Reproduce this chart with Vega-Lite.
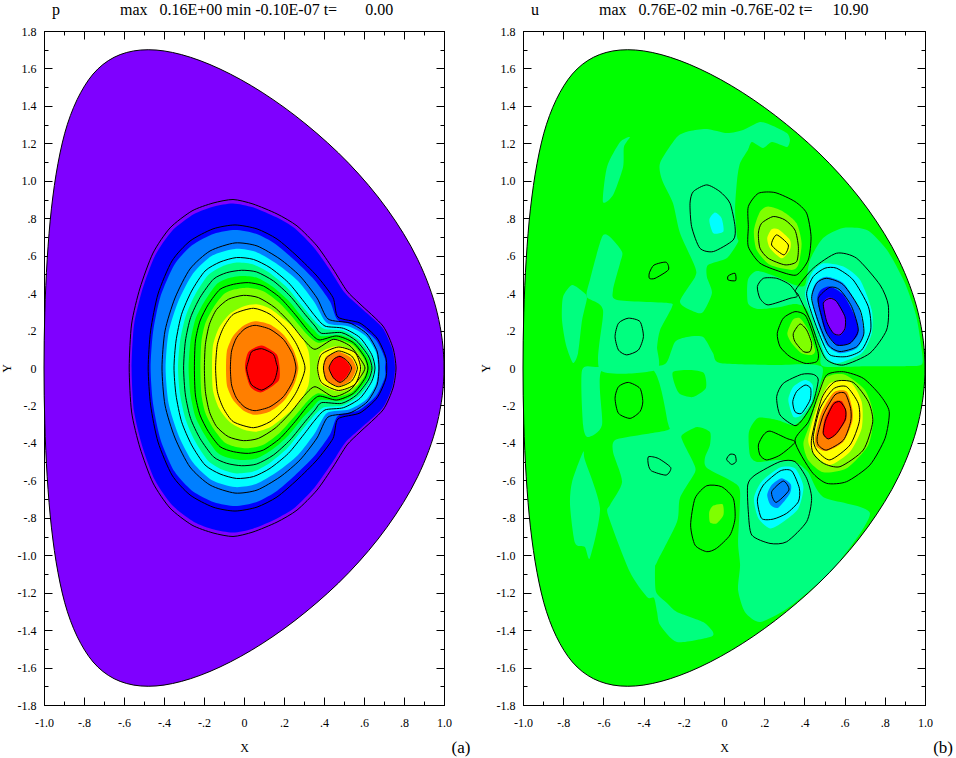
{"$schema":"https://vega.github.io/schema/vega-lite/v6.json","autosize":{"type":"none"},"padding":{"left":44,"top":31,"right":912,"bottom":727},"background":"white","config":{"view":{"stroke":"black"},"axis":{"labelFont":"Liberation Serif","titleFont":"Liberation Serif","domainColor":"black","tickColor":"black","labelColor":"black","titleColor":"black","labelFontSize":12,"titleFontSize":12,"titleFontWeight":"normal","grid":false,"labelOverlap":false,"labelFlush":false}},"spacing":79,"bounds":"flush","datasets":{"bd":[
{"x":1,"y":0},{"x":0.966,"y":0.295},{"x":0.868,"y":0.581},{"x":0.715,"y":0.85},{"x":0.524,"y":1.093},{"x":0.31,"y":1.302},{"x":0.091,"y":1.472},{"x":-0.12,"y":1.597},{"x":-0.313,"y":1.674},{"x":-0.479,"y":1.7},{"x":-0.619,"y":1.674},{"x":-0.731,"y":1.597},{"x":-0.816,"y":1.472},{"x":-0.883,"y":1.302},{"x":-0.93,"y":1.093},{"x":-0.963,"y":0.85},{"x":-0.984,"y":0.581},{"x":-0.996,"y":0.295},{"x":-1,"y":0},{"x":-0.996,"y":-0.295},{"x":-0.984,"y":-0.581},{"x":-0.963,"y":-0.85},{"x":-0.93,"y":-1.093},{"x":-0.883,"y":-1.302},{"x":-0.816,"y":-1.472},{"x":-0.731,"y":-1.597},{"x":-0.619,"y":-1.674},{"x":-0.479,"y":-1.7},{"x":-0.313,"y":-1.674},{"x":-0.12,"y":-1.597},{"x":0.091,"y":-1.472},{"x":0.31,"y":-1.302},{"x":0.524,"y":-1.093},{"x":0.715,"y":-0.85},{"x":0.868,"y":-0.581},{"x":0.966,"y":-0.295}
],"lf":[
{"s":"f1","c":1,"x":-0.562,"y":0},{"s":"f1","c":1,"x":-0.55,"y":0.23},{"s":"f1","c":1,"x":-0.508,"y":0.42},{"s":"f1","c":1,"x":-0.445,"y":0.6},{"s":"f1","c":1,"x":-0.36,"y":0.732},{"s":"f1","c":1,"x":-0.25,"y":0.822},{"s":"f1","c":1,"x":-0.15,"y":0.863},{"s":"f1","c":1,"x":-0.055,"y":0.879},{"s":"f1","c":1,"x":0.045,"y":0.858},{"s":"f1","c":1,"x":0.16,"y":0.806},{"s":"f1","c":1,"x":0.255,"y":0.745},{"s":"f1","c":1,"x":0.352,"y":0.64},{"s":"f1","c":1,"x":0.432,"y":0.52},{"s":"f1","c":1,"x":0.505,"y":0.4},{"s":"f1","c":1,"x":0.575,"y":0.33},{"s":"f1","c":1,"x":0.69,"y":0.218},{"s":"f1","c":1,"x":0.74,"y":0.105},{"s":"f1","c":1,"x":0.755,"y":0},{"s":"f1","c":1,"x":0.74,"y":-0.105},{"s":"f1","c":1,"x":0.69,"y":-0.218},{"s":"f1","c":1,"x":0.575,"y":-0.33},{"s":"f1","c":1,"x":0.505,"y":-0.4},{"s":"f1","c":1,"x":0.432,"y":-0.52},{"s":"f1","c":1,"x":0.352,"y":-0.64},{"s":"f1","c":1,"x":0.255,"y":-0.745},{"s":"f1","c":1,"x":0.16,"y":-0.806},{"s":"f1","c":1,"x":0.045,"y":-0.858},{"s":"f1","c":1,"x":-0.055,"y":-0.879},{"s":"f1","c":1,"x":-0.15,"y":-0.863},{"s":"f1","c":1,"x":-0.25,"y":-0.822},{"s":"f1","c":1,"x":-0.36,"y":-0.732},{"s":"f1","c":1,"x":-0.445,"y":-0.6},{"s":"f1","c":1,"x":-0.508,"y":-0.42},{"s":"f1","c":1,"x":-0.55,"y":-0.23},
{"s":"f2","c":2,"x":-0.467,"y":0},{"s":"f2","c":2,"x":-0.455,"y":0.19},{"s":"f2","c":2,"x":-0.418,"y":0.38},{"s":"f2","c":2,"x":-0.348,"y":0.552},{"s":"f2","c":2,"x":-0.26,"y":0.655},{"s":"f2","c":2,"x":-0.15,"y":0.717},{"s":"f2","c":2,"x":-0.045,"y":0.737},{"s":"f2","c":2,"x":0.06,"y":0.717},{"s":"f2","c":2,"x":0.155,"y":0.664},{"s":"f2","c":2,"x":0.253,"y":0.575},{"s":"f2","c":2,"x":0.352,"y":0.47},{"s":"f2","c":2,"x":0.43,"y":0.355},{"s":"f2","c":2,"x":0.47,"y":0.255},{"s":"f2","c":2,"x":0.575,"y":0.225},{"s":"f2","c":2,"x":0.66,"y":0.15},{"s":"f2","c":2,"x":0.705,"y":0.05},{"s":"f2","c":2,"x":0.705,"y":0},{"s":"f2","c":2,"x":0.705,"y":-0.05},{"s":"f2","c":2,"x":0.66,"y":-0.15},{"s":"f2","c":2,"x":0.575,"y":-0.225},{"s":"f2","c":2,"x":0.47,"y":-0.255},{"s":"f2","c":2,"x":0.43,"y":-0.355},{"s":"f2","c":2,"x":0.352,"y":-0.47},{"s":"f2","c":2,"x":0.253,"y":-0.575},{"s":"f2","c":2,"x":0.155,"y":-0.664},{"s":"f2","c":2,"x":0.06,"y":-0.717},{"s":"f2","c":2,"x":-0.045,"y":-0.737},{"s":"f2","c":2,"x":-0.15,"y":-0.717},{"s":"f2","c":2,"x":-0.26,"y":-0.655},{"s":"f2","c":2,"x":-0.348,"y":-0.552},{"s":"f2","c":2,"x":-0.418,"y":-0.38},{"s":"f2","c":2,"x":-0.455,"y":-0.19},
{"s":"f3","c":3,"x":-0.392,"y":0},{"s":"f3","c":3,"x":-0.377,"y":0.19},{"s":"f3","c":3,"x":-0.327,"y":0.36},{"s":"f3","c":3,"x":-0.255,"y":0.505},{"s":"f3","c":3,"x":-0.16,"y":0.6},{"s":"f3","c":3,"x":-0.045,"y":0.636},{"s":"f3","c":3,"x":0.06,"y":0.62},{"s":"f3","c":3,"x":0.17,"y":0.552},{"s":"f3","c":3,"x":0.27,"y":0.465},{"s":"f3","c":3,"x":0.353,"y":0.35},{"s":"f3","c":3,"x":0.415,"y":0.24},{"s":"f3","c":3,"x":0.525,"y":0.222},{"s":"f3","c":3,"x":0.61,"y":0.17},{"s":"f3","c":3,"x":0.66,"y":0.085},{"s":"f3","c":3,"x":0.67,"y":0},{"s":"f3","c":3,"x":0.66,"y":-0.085},{"s":"f3","c":3,"x":0.61,"y":-0.17},{"s":"f3","c":3,"x":0.525,"y":-0.222},{"s":"f3","c":3,"x":0.415,"y":-0.24},{"s":"f3","c":3,"x":0.353,"y":-0.35},{"s":"f3","c":3,"x":0.27,"y":-0.465},{"s":"f3","c":3,"x":0.17,"y":-0.552},{"s":"f3","c":3,"x":0.06,"y":-0.62},{"s":"f3","c":3,"x":-0.045,"y":-0.636},{"s":"f3","c":3,"x":-0.16,"y":-0.6},{"s":"f3","c":3,"x":-0.255,"y":-0.505},{"s":"f3","c":3,"x":-0.327,"y":-0.36},{"s":"f3","c":3,"x":-0.377,"y":-0.19},
{"s":"f4","c":4,"x":-0.33,"y":0},{"s":"f4","c":4,"x":-0.32,"y":0.14},{"s":"f4","c":4,"x":-0.292,"y":0.275},{"s":"f4","c":4,"x":-0.245,"y":0.39},{"s":"f4","c":4,"x":-0.18,"y":0.495},{"s":"f4","c":4,"x":-0.11,"y":0.542},{"s":"f4","c":4,"x":-0.037,"y":0.563},{"s":"f4","c":4,"x":0.047,"y":0.553},{"s":"f4","c":4,"x":0.125,"y":0.51},{"s":"f4","c":4,"x":0.215,"y":0.43},{"s":"f4","c":4,"x":0.288,"y":0.335},{"s":"f4","c":4,"x":0.348,"y":0.258},{"s":"f4","c":4,"x":0.4,"y":0.21},{"s":"f4","c":4,"x":0.495,"y":0.2},{"s":"f4","c":4,"x":0.575,"y":0.15},{"s":"f4","c":4,"x":0.633,"y":0.07},{"s":"f4","c":4,"x":0.65,"y":0},{"s":"f4","c":4,"x":0.633,"y":-0.07},{"s":"f4","c":4,"x":0.575,"y":-0.15},{"s":"f4","c":4,"x":0.495,"y":-0.2},{"s":"f4","c":4,"x":0.4,"y":-0.21},{"s":"f4","c":4,"x":0.348,"y":-0.258},{"s":"f4","c":4,"x":0.288,"y":-0.335},{"s":"f4","c":4,"x":0.215,"y":-0.43},{"s":"f4","c":4,"x":0.125,"y":-0.51},{"s":"f4","c":4,"x":0.047,"y":-0.553},{"s":"f4","c":4,"x":-0.037,"y":-0.563},{"s":"f4","c":4,"x":-0.11,"y":-0.542},{"s":"f4","c":4,"x":-0.18,"y":-0.495},{"s":"f4","c":4,"x":-0.245,"y":-0.39},{"s":"f4","c":4,"x":-0.292,"y":-0.275},{"s":"f4","c":4,"x":-0.32,"y":-0.14},
{"s":"f5","c":5,"x":-0.277,"y":0},{"s":"f5","c":5,"x":-0.268,"y":0.14},{"s":"f5","c":5,"x":-0.243,"y":0.26},{"s":"f5","c":5,"x":-0.198,"y":0.355},{"s":"f5","c":5,"x":-0.135,"y":0.45},{"s":"f5","c":5,"x":-0.08,"y":0.48},{"s":"f5","c":5,"x":-0.012,"y":0.492},{"s":"f5","c":5,"x":0.063,"y":0.483},{"s":"f5","c":5,"x":0.142,"y":0.435},{"s":"f5","c":5,"x":0.222,"y":0.36},{"s":"f5","c":5,"x":0.295,"y":0.265},{"s":"f5","c":5,"x":0.348,"y":0.205},{"s":"f5","c":5,"x":0.385,"y":0.17},{"s":"f5","c":5,"x":0.487,"y":0.175},{"s":"f5","c":5,"x":0.56,"y":0.135},{"s":"f5","c":5,"x":0.617,"y":0.06},{"s":"f5","c":5,"x":0.635,"y":0},{"s":"f5","c":5,"x":0.617,"y":-0.06},{"s":"f5","c":5,"x":0.56,"y":-0.135},{"s":"f5","c":5,"x":0.487,"y":-0.175},{"s":"f5","c":5,"x":0.385,"y":-0.17},{"s":"f5","c":5,"x":0.348,"y":-0.205},{"s":"f5","c":5,"x":0.295,"y":-0.265},{"s":"f5","c":5,"x":0.222,"y":-0.36},{"s":"f5","c":5,"x":0.142,"y":-0.435},{"s":"f5","c":5,"x":0.063,"y":-0.483},{"s":"f5","c":5,"x":-0.012,"y":-0.492},{"s":"f5","c":5,"x":-0.08,"y":-0.48},{"s":"f5","c":5,"x":-0.135,"y":-0.45},{"s":"f5","c":5,"x":-0.198,"y":-0.355},{"s":"f5","c":5,"x":-0.243,"y":-0.26},{"s":"f5","c":5,"x":-0.268,"y":-0.14},
{"s":"f6","c":6,"x":-0.218,"y":0},{"s":"f6","c":6,"x":-0.213,"y":0.14},{"s":"f6","c":6,"x":-0.193,"y":0.24},{"s":"f6","c":6,"x":-0.152,"y":0.325},{"s":"f6","c":6,"x":-0.1,"y":0.395},{"s":"f6","c":6,"x":-0.045,"y":0.42},{"s":"f6","c":6,"x":0.022,"y":0.429},{"s":"f6","c":6,"x":0.097,"y":0.41},{"s":"f6","c":6,"x":0.175,"y":0.35},{"s":"f6","c":6,"x":0.248,"y":0.265},{"s":"f6","c":6,"x":0.315,"y":0.18},{"s":"f6","c":6,"x":0.37,"y":0.135},{"s":"f6","c":6,"x":0.46,"y":0.155},{"s":"f6","c":6,"x":0.543,"y":0.125},{"s":"f6","c":6,"x":0.6,"y":0.05},{"s":"f6","c":6,"x":0.615,"y":0},{"s":"f6","c":6,"x":0.6,"y":-0.05},{"s":"f6","c":6,"x":0.543,"y":-0.125},{"s":"f6","c":6,"x":0.46,"y":-0.155},{"s":"f6","c":6,"x":0.37,"y":-0.135},{"s":"f6","c":6,"x":0.315,"y":-0.18},{"s":"f6","c":6,"x":0.248,"y":-0.265},{"s":"f6","c":6,"x":0.175,"y":-0.35},{"s":"f6","c":6,"x":0.097,"y":-0.41},{"s":"f6","c":6,"x":0.022,"y":-0.429},{"s":"f6","c":6,"x":-0.045,"y":-0.42},{"s":"f6","c":6,"x":-0.1,"y":-0.395},{"s":"f6","c":6,"x":-0.152,"y":-0.325},{"s":"f6","c":6,"x":-0.193,"y":-0.24},{"s":"f6","c":6,"x":-0.213,"y":-0.14},
{"s":"f7","c":7,"x":-0.16,"y":0},{"s":"f7","c":7,"x":-0.155,"y":0.12},{"s":"f7","c":7,"x":-0.125,"y":0.215},{"s":"f7","c":7,"x":-0.07,"y":0.29},{"s":"f7","c":7,"x":0,"y":0.33},{"s":"f7","c":7,"x":0.063,"y":0.34},{"s":"f7","c":7,"x":0.13,"y":0.317},{"s":"f7","c":7,"x":0.2,"y":0.26},{"s":"f7","c":7,"x":0.28,"y":0.18},{"s":"f7","c":7,"x":0.322,"y":0.091},{"s":"f7","c":7,"x":0.33,"y":0},{"s":"f7","c":7,"x":0.322,"y":-0.091},{"s":"f7","c":7,"x":0.28,"y":-0.18},{"s":"f7","c":7,"x":0.2,"y":-0.26},{"s":"f7","c":7,"x":0.13,"y":-0.317},{"s":"f7","c":7,"x":0.063,"y":-0.34},{"s":"f7","c":7,"x":0,"y":-0.33},{"s":"f7","c":7,"x":-0.07,"y":-0.29},{"s":"f7","c":7,"x":-0.125,"y":-0.215},{"s":"f7","c":7,"x":-0.155,"y":-0.12},
{"s":"f7b","c":7,"x":0.367,"y":0},{"s":"f7b","c":7,"x":0.385,"y":0.085},{"s":"f7b","c":7,"x":0.472,"y":0.118},{"s":"f7b","c":7,"x":0.565,"y":0.08},{"s":"f7b","c":7,"x":0.588,"y":0},{"s":"f7b","c":7,"x":0.565,"y":-0.09},{"s":"f7b","c":7,"x":0.472,"y":-0.125},{"s":"f7b","c":7,"x":0.385,"y":-0.085},
{"s":"f8","c":8,"x":-0.09,"y":0},{"s":"f8","c":8,"x":-0.085,"y":0.095},{"s":"f8","c":8,"x":-0.055,"y":0.17},{"s":"f8","c":8,"x":-0.005,"y":0.225},{"s":"f8","c":8,"x":0.055,"y":0.25},{"s":"f8","c":8,"x":0.13,"y":0.232},{"s":"f8","c":8,"x":0.2,"y":0.175},{"s":"f8","c":8,"x":0.25,"y":0.09},{"s":"f8","c":8,"x":0.272,"y":0},{"s":"f8","c":8,"x":0.25,"y":-0.09},{"s":"f8","c":8,"x":0.2,"y":-0.175},{"s":"f8","c":8,"x":0.13,"y":-0.232},{"s":"f8","c":8,"x":0.055,"y":-0.25},{"s":"f8","c":8,"x":-0.005,"y":-0.225},{"s":"f8","c":8,"x":-0.055,"y":-0.17},{"s":"f8","c":8,"x":-0.085,"y":-0.095},
{"s":"f8b","c":8,"x":0.397,"y":0},{"s":"f8b","c":8,"x":0.41,"y":0.06},{"s":"f8b","c":8,"x":0.472,"y":0.087},{"s":"f8b","c":8,"x":0.535,"y":0.055},{"s":"f8b","c":8,"x":0.56,"y":0},{"s":"f8b","c":8,"x":0.535,"y":-0.065},{"s":"f8b","c":8,"x":0.472,"y":-0.097},{"s":"f8b","c":8,"x":0.41,"y":-0.065},
{"s":"f9","c":9,"x":0.005,"y":0},{"s":"f9","c":9,"x":0.022,"y":0.085},{"s":"f9","c":9,"x":0.088,"y":0.12},{"s":"f9","c":9,"x":0.163,"y":0.073},{"s":"f9","c":9,"x":0.178,"y":0},{"s":"f9","c":9,"x":0.172,"y":-0.07},{"s":"f9","c":9,"x":0.088,"y":-0.13},{"s":"f9","c":9,"x":0.032,"y":-0.1},
{"s":"f9b","c":9,"x":0.427,"y":0},{"s":"f9b","c":9,"x":0.447,"y":0.045},{"s":"f9b","c":9,"x":0.478,"y":0.067},{"s":"f9b","c":9,"x":0.51,"y":0.04},{"s":"f9b","c":9,"x":0.533,"y":0},{"s":"f9b","c":9,"x":0.51,"y":-0.05},{"s":"f9b","c":9,"x":0.478,"y":-0.075},{"s":"f9b","c":9,"x":0.447,"y":-0.055}
],"ll":[
{"s":"l1","x":-0.574,"y":0},{"s":"l1","x":-0.562,"y":0.235},{"s":"l1","x":-0.52,"y":0.427},{"s":"l1","x":-0.455,"y":0.614},{"s":"l1","x":-0.37,"y":0.748},{"s":"l1","x":-0.26,"y":0.839},{"s":"l1","x":-0.155,"y":0.881},{"s":"l1","x":-0.055,"y":0.9},{"s":"l1","x":0.045,"y":0.876},{"s":"l1","x":0.165,"y":0.823},{"s":"l1","x":0.265,"y":0.759},{"s":"l1","x":0.365,"y":0.652},{"s":"l1","x":0.445,"y":0.529},{"s":"l1","x":0.515,"y":0.411},{"s":"l1","x":0.58,"y":0.342},{"s":"l1","x":0.695,"y":0.224},{"s":"l1","x":0.745,"y":0.107},{"s":"l1","x":0.76,"y":0},{"s":"l1","x":0.745,"y":-0.107},{"s":"l1","x":0.695,"y":-0.224},{"s":"l1","x":0.58,"y":-0.342},{"s":"l1","x":0.515,"y":-0.411},{"s":"l1","x":0.445,"y":-0.529},{"s":"l1","x":0.365,"y":-0.652},{"s":"l1","x":0.265,"y":-0.759},{"s":"l1","x":0.165,"y":-0.823},{"s":"l1","x":0.045,"y":-0.876},{"s":"l1","x":-0.055,"y":-0.9},{"s":"l1","x":-0.155,"y":-0.881},{"s":"l1","x":-0.26,"y":-0.839},{"s":"l1","x":-0.37,"y":-0.748},{"s":"l1","x":-0.455,"y":-0.614},{"s":"l1","x":-0.52,"y":-0.427},{"s":"l1","x":-0.562,"y":-0.235},
{"s":"l2","x":-0.479,"y":0},{"s":"l2","x":-0.467,"y":0.198},{"s":"l2","x":-0.43,"y":0.395},{"s":"l2","x":-0.36,"y":0.572},{"s":"l2","x":-0.27,"y":0.678},{"s":"l2","x":-0.155,"y":0.743},{"s":"l2","x":-0.045,"y":0.764},{"s":"l2","x":0.065,"y":0.743},{"s":"l2","x":0.165,"y":0.689},{"s":"l2","x":0.265,"y":0.598},{"s":"l2","x":0.365,"y":0.491},{"s":"l2","x":0.445,"y":0.376},{"s":"l2","x":0.47,"y":0.272},{"s":"l2","x":0.58,"y":0.24},{"s":"l2","x":0.665,"y":0.16},{"s":"l2","x":0.71,"y":0.053},{"s":"l2","x":0.71,"y":-0.053},{"s":"l2","x":0.665,"y":-0.16},{"s":"l2","x":0.58,"y":-0.24},{"s":"l2","x":0.47,"y":-0.272},{"s":"l2","x":0.445,"y":-0.376},{"s":"l2","x":0.365,"y":-0.491},{"s":"l2","x":0.265,"y":-0.598},{"s":"l2","x":0.165,"y":-0.689},{"s":"l2","x":0.065,"y":-0.743},{"s":"l2","x":-0.045,"y":-0.764},{"s":"l2","x":-0.155,"y":-0.743},{"s":"l2","x":-0.27,"y":-0.678},{"s":"l2","x":-0.36,"y":-0.572},{"s":"l2","x":-0.43,"y":-0.395},{"s":"l2","x":-0.467,"y":-0.198},
{"s":"l3","x":-0.41,"y":0},{"s":"l3","x":-0.395,"y":0.198},{"s":"l3","x":-0.345,"y":0.374},{"s":"l3","x":-0.27,"y":0.529},{"s":"l3","x":-0.17,"y":0.625},{"s":"l3","x":-0.045,"y":0.668},{"s":"l3","x":0.065,"y":0.652},{"s":"l3","x":0.18,"y":0.582},{"s":"l3","x":0.28,"y":0.491},{"s":"l3","x":0.365,"y":0.374},{"s":"l3","x":0.42,"y":0.262},{"s":"l3","x":0.53,"y":0.24},{"s":"l3","x":0.615,"y":0.182},{"s":"l3","x":0.665,"y":0.091},{"s":"l3","x":0.675,"y":0},{"s":"l3","x":0.665,"y":-0.091},{"s":"l3","x":0.615,"y":-0.182},{"s":"l3","x":0.53,"y":-0.24},{"s":"l3","x":0.42,"y":-0.262},{"s":"l3","x":0.365,"y":-0.374},{"s":"l3","x":0.28,"y":-0.491},{"s":"l3","x":0.18,"y":-0.582},{"s":"l3","x":0.065,"y":-0.652},{"s":"l3","x":-0.045,"y":-0.668},{"s":"l3","x":-0.17,"y":-0.625},{"s":"l3","x":-0.27,"y":-0.529},{"s":"l3","x":-0.345,"y":-0.374},{"s":"l3","x":-0.395,"y":-0.198},
{"s":"l4","x":-0.35,"y":0},{"s":"l4","x":-0.34,"y":0.144},{"s":"l4","x":-0.312,"y":0.287},{"s":"l4","x":-0.262,"y":0.411},{"s":"l4","x":-0.195,"y":0.518},{"s":"l4","x":-0.12,"y":0.566},{"s":"l4","x":-0.037,"y":0.59},{"s":"l4","x":0.047,"y":0.58},{"s":"l4","x":0.13,"y":0.536},{"s":"l4","x":0.222,"y":0.456},{"s":"l4","x":0.297,"y":0.358},{"s":"l4","x":0.355,"y":0.278},{"s":"l4","x":0.405,"y":0.224},{"s":"l4","x":0.497,"y":0.212},{"s":"l4","x":0.58,"y":0.162},{"s":"l4","x":0.638,"y":0.073},{"s":"l4","x":0.655,"y":0},{"s":"l4","x":0.638,"y":-0.073},{"s":"l4","x":0.58,"y":-0.162},{"s":"l4","x":0.497,"y":-0.212},{"s":"l4","x":0.405,"y":-0.224},{"s":"l4","x":0.355,"y":-0.278},{"s":"l4","x":0.297,"y":-0.358},{"s":"l4","x":0.222,"y":-0.456},{"s":"l4","x":0.13,"y":-0.536},{"s":"l4","x":0.047,"y":-0.58},{"s":"l4","x":-0.037,"y":-0.59},{"s":"l4","x":-0.12,"y":-0.566},{"s":"l4","x":-0.195,"y":-0.518},{"s":"l4","x":-0.262,"y":-0.411},{"s":"l4","x":-0.312,"y":-0.287},{"s":"l4","x":-0.34,"y":-0.144},
{"s":"l5","x":-0.302,"y":0},{"s":"l5","x":-0.293,"y":0.144},{"s":"l5","x":-0.267,"y":0.269},{"s":"l5","x":-0.22,"y":0.376},{"s":"l5","x":-0.153,"y":0.474},{"s":"l5","x":-0.087,"y":0.509},{"s":"l5","x":-0.012,"y":0.522},{"s":"l5","x":0.063,"y":0.513},{"s":"l5","x":0.147,"y":0.465},{"s":"l5","x":0.23,"y":0.385},{"s":"l5","x":0.305,"y":0.287},{"s":"l5","x":0.355,"y":0.224},{"s":"l5","x":0.388,"y":0.185},{"s":"l5","x":0.488,"y":0.189},{"s":"l5","x":0.563,"y":0.144},{"s":"l5","x":0.622,"y":0.064},{"s":"l5","x":0.64,"y":0},{"s":"l5","x":0.622,"y":-0.064},{"s":"l5","x":0.563,"y":-0.144},{"s":"l5","x":0.488,"y":-0.189},{"s":"l5","x":0.388,"y":-0.185},{"s":"l5","x":0.355,"y":-0.224},{"s":"l5","x":0.305,"y":-0.287},{"s":"l5","x":0.23,"y":-0.385},{"s":"l5","x":0.147,"y":-0.465},{"s":"l5","x":0.063,"y":-0.513},{"s":"l5","x":-0.012,"y":-0.522},{"s":"l5","x":-0.087,"y":-0.509},{"s":"l5","x":-0.153,"y":-0.474},{"s":"l5","x":-0.22,"y":-0.376},{"s":"l5","x":-0.267,"y":-0.269},{"s":"l5","x":-0.293,"y":-0.144},
{"s":"l6","x":-0.248,"y":0},{"s":"l6","x":-0.243,"y":0.144},{"s":"l6","x":-0.22,"y":0.251},{"s":"l6","x":-0.178,"y":0.34},{"s":"l6","x":-0.12,"y":0.42},{"s":"l6","x":-0.053,"y":0.447},{"s":"l6","x":0.022,"y":0.456},{"s":"l6","x":0.097,"y":0.438},{"s":"l6","x":0.18,"y":0.376},{"s":"l6","x":0.255,"y":0.287},{"s":"l6","x":0.322,"y":0.198},{"s":"l6","x":0.375,"y":0.15},{"s":"l6","x":0.463,"y":0.171},{"s":"l6","x":0.547,"y":0.135},{"s":"l6","x":0.605,"y":0.055},{"s":"l6","x":0.62,"y":0},{"s":"l6","x":0.605,"y":-0.055},{"s":"l6","x":0.547,"y":-0.135},{"s":"l6","x":0.463,"y":-0.171},{"s":"l6","x":0.375,"y":-0.15},{"s":"l6","x":0.322,"y":-0.198},{"s":"l6","x":0.255,"y":-0.287},{"s":"l6","x":0.18,"y":-0.376},{"s":"l6","x":0.097,"y":-0.438},{"s":"l6","x":0.022,"y":-0.456},{"s":"l6","x":-0.053,"y":-0.447},{"s":"l6","x":-0.12,"y":-0.42},{"s":"l6","x":-0.178,"y":-0.34},{"s":"l6","x":-0.22,"y":-0.251},{"s":"l6","x":-0.243,"y":-0.144},
{"s":"l7","x":-0.198,"y":0},{"s":"l7","x":-0.193,"y":0.126},{"s":"l7","x":-0.173,"y":0.233},{"s":"l7","x":-0.137,"y":0.313},{"s":"l7","x":-0.078,"y":0.367},{"s":"l7","x":-0.003,"y":0.388},{"s":"l7","x":0.072,"y":0.376},{"s":"l7","x":0.155,"y":0.322},{"s":"l7","x":0.23,"y":0.242},{"s":"l7","x":0.297,"y":0.153},{"s":"l7","x":0.355,"y":0.1},{"s":"l7","x":0.447,"y":0.153},{"s":"l7","x":0.53,"y":0.118},{"s":"l7","x":0.588,"y":0.038},{"s":"l7","x":0.605,"y":0},{"s":"l7","x":0.588,"y":-0.038},{"s":"l7","x":0.53,"y":-0.118},{"s":"l7","x":0.447,"y":-0.153},{"s":"l7","x":0.355,"y":-0.1},{"s":"l7","x":0.297,"y":-0.153},{"s":"l7","x":0.23,"y":-0.242},{"s":"l7","x":0.155,"y":-0.322},{"s":"l7","x":0.072,"y":-0.376},{"s":"l7","x":-0.003,"y":-0.388},{"s":"l7","x":-0.078,"y":-0.367},{"s":"l7","x":-0.137,"y":-0.313},{"s":"l7","x":-0.173,"y":-0.233},{"s":"l7","x":-0.193,"y":-0.126},
{"s":"l8","x":-0.142,"y":0},{"s":"l8","x":-0.133,"y":0.126},{"s":"l8","x":-0.103,"y":0.215},{"s":"l8","x":-0.053,"y":0.287},{"s":"l8","x":0.047,"y":0.319},{"s":"l8","x":0.13,"y":0.287},{"s":"l8","x":0.205,"y":0.215},{"s":"l8","x":0.263,"y":0.126},{"s":"l8","x":0.305,"y":0},{"s":"l8","x":0.263,"y":-0.126},{"s":"l8","x":0.205,"y":-0.215},{"s":"l8","x":0.13,"y":-0.287},{"s":"l8","x":0.047,"y":-0.319},{"s":"l8","x":-0.053,"y":-0.287},{"s":"l8","x":-0.103,"y":-0.215},{"s":"l8","x":-0.133,"y":-0.126},
{"s":"l9","x":-0.068,"y":0},{"s":"l9","x":-0.062,"y":0.091},{"s":"l9","x":-0.037,"y":0.162},{"s":"l9","x":0.005,"y":0.21},{"s":"l9","x":0.055,"y":0.228},{"s":"l9","x":0.13,"y":0.207},{"s":"l9","x":0.197,"y":0.153},{"s":"l9","x":0.243,"y":0.073},{"s":"l9","x":0.26,"y":0},{"s":"l9","x":0.243,"y":-0.073},{"s":"l9","x":0.197,"y":-0.153},{"s":"l9","x":0.13,"y":-0.207},{"s":"l9","x":0.055,"y":-0.228},{"s":"l9","x":0.005,"y":-0.21},{"s":"l9","x":-0.037,"y":-0.162},{"s":"l9","x":-0.062,"y":-0.091},
{"s":"l10","x":0.013,"y":0},{"s":"l10","x":0.022,"y":0.037},{"s":"l10","x":0.038,"y":0.087},{"s":"l10","x":0.088,"y":0.103},{"s":"l10","x":0.147,"y":0.073},{"s":"l10","x":0.163,"y":0.02},{"s":"l10","x":0.168,"y":0},{"s":"l10","x":0.158,"y":-0.05},{"s":"l10","x":0.14,"y":-0.085},{"s":"l10","x":0.088,"y":-0.118},{"s":"l10","x":0.038,"y":-0.09},{"s":"l10","x":0.02,"y":-0.04},
{"s":"r1","x":0.425,"y":0},{"s":"r1","x":0.447,"y":0.046},{"s":"r1","x":0.48,"y":0.062},{"s":"r1","x":0.513,"y":0.041},{"s":"r1","x":0.538,"y":0},{"s":"r1","x":0.513,"y":-0.052},{"s":"r1","x":0.48,"y":-0.077},{"s":"r1","x":0.447,"y":-0.052},
{"s":"r2","x":0.397,"y":0},{"s":"r2","x":0.413,"y":0.055},{"s":"r2","x":0.472,"y":0.091},{"s":"r2","x":0.538,"y":0.064},{"s":"r2","x":0.567,"y":0},{"s":"r2","x":0.538,"y":-0.07},{"s":"r2","x":0.472,"y":-0.1},{"s":"r2","x":0.413,"y":-0.066},
{"s":"r3","x":0.368,"y":0},{"s":"r3","x":0.388,"y":0.073},{"s":"r3","x":0.472,"y":0.112},{"s":"r3","x":0.555,"y":0.082},{"s":"r3","x":0.583,"y":0},{"s":"r3","x":0.555,"y":-0.087},{"s":"r3","x":0.472,"y":-0.12},{"s":"r3","x":0.388,"y":-0.078}
],"rf":[
{"s":"s1","c":4,"x":-0.169,"y":1.266},{"s":"s1","c":4,"x":-0.085,"y":1.277},{"s":"s1","c":4,"x":0.015,"y":1.255},{"s":"s1","c":4,"x":0.095,"y":1.271},{"s":"s1","c":4,"x":0.179,"y":1.314},{"s":"s1","c":4,"x":0.244,"y":1.293},{"s":"s1","c":4,"x":0.313,"y":1.255},{"s":"s1","c":4,"x":0.328,"y":1.218},{"s":"s1","c":4,"x":0.313,"y":1.181},{"s":"s1","c":4,"x":0.239,"y":1.207},{"s":"s1","c":4,"x":0.194,"y":1.175},{"s":"s1","c":4,"x":0.139,"y":1.207},{"s":"s1","c":4,"x":0.119,"y":1.165},{"s":"s1","c":4,"x":0.08,"y":1.095},{"s":"s1","c":4,"x":0.065,"y":1.004},{"s":"s1","c":4,"x":0.055,"y":0.844},{"s":"s1","c":4,"x":0.065,"y":0.7},{"s":"s1","c":4,"x":0.07,"y":0.673},{"s":"s1","c":4,"x":0.015,"y":0.588},{"s":"s1","c":4,"x":-0.08,"y":0.55},{"s":"s1","c":4,"x":-0.085,"y":0.486},{"s":"s1","c":4,"x":-0.06,"y":0.401},{"s":"s1","c":4,"x":-0.104,"y":0.299},{"s":"s1","c":4,"x":-0.144,"y":0.299},{"s":"s1","c":4,"x":-0.219,"y":0.353},{"s":"s1","c":4,"x":-0.144,"y":0.486},{"s":"s1","c":4,"x":-0.144,"y":0.54},{"s":"s1","c":4,"x":-0.219,"y":0.721},{"s":"s1","c":4,"x":-0.254,"y":0.881},{"s":"s1","c":4,"x":-0.308,"y":1.004},{"s":"s1","c":4,"x":-0.318,"y":1.095},{"s":"s1","c":4,"x":-0.234,"y":1.234},
{"s":"s2","c":4,"x":-0.468,"y":1.234},{"s":"s2","c":4,"x":-0.517,"y":1.207},{"s":"s2","c":4,"x":-0.582,"y":1.074},{"s":"s2","c":4,"x":-0.602,"y":0.887},{"s":"s2","c":4,"x":-0.552,"y":0.924},{"s":"s2","c":4,"x":-0.502,"y":1.074},{"s":"s2","c":4,"x":-0.498,"y":1.181},
{"s":"s3","c":4,"x":-0.607,"y":0.7},{"s":"s3","c":4,"x":-0.567,"y":0.7},{"s":"s3","c":4,"x":-0.507,"y":0.62},{"s":"s3","c":4,"x":-0.517,"y":0.561},{"s":"s3","c":4,"x":-0.552,"y":0.417},{"s":"s3","c":4,"x":-0.532,"y":0.363},{"s":"s3","c":4,"x":-0.279,"y":0.347},{"s":"s3","c":4,"x":-0.259,"y":0.326},{"s":"s3","c":4,"x":-0.318,"y":0.203},{"s":"s3","c":4,"x":-0.333,"y":0.112},{"s":"s3","c":4,"x":-0.338,"y":-0.011},{"s":"s3","c":4,"x":-0.617,"y":-0.011},{"s":"s3","c":4,"x":-0.602,"y":0.31},{"s":"s3","c":4,"x":-0.682,"y":0.379},{"s":"s3","c":4,"x":-0.667,"y":0.47},
{"s":"s4","c":4,"x":-0.756,"y":0.443},{"s":"s4","c":4,"x":-0.701,"y":0.406},{"s":"s4","c":4,"x":-0.682,"y":0.374},{"s":"s4","c":4,"x":-0.706,"y":0.256},{"s":"s4","c":4,"x":-0.726,"y":0.08},{"s":"s4","c":4,"x":-0.751,"y":0.027},{"s":"s4","c":4,"x":-0.786,"y":0.123},{"s":"s4","c":4,"x":-0.806,"y":0.256},{"s":"s4","c":4,"x":-0.801,"y":0.379},
{"s":"s5","c":4,"x":-0.701,"y":-0.449},{"s":"s5","c":4,"x":-0.756,"y":-0.609},{"s":"s5","c":4,"x":-0.766,"y":-0.732},{"s":"s5","c":4,"x":-0.741,"y":-0.935},{"s":"s5","c":4,"x":-0.692,"y":-0.956},{"s":"s5","c":4,"x":-0.667,"y":-1.015},{"s":"s5","c":4,"x":-0.617,"y":-0.748},{"s":"s5","c":4,"x":-0.692,"y":-0.491},
{"s":"s6","c":4,"x":0.119,"y":0.47},{"s":"s6","c":4,"x":0.164,"y":0.518},{"s":"s6","c":4,"x":0.264,"y":0.486},{"s":"s6","c":4,"x":0.353,"y":0.443},{"s":"s6","c":4,"x":0.403,"y":0.443},{"s":"s6","c":4,"x":0.428,"y":0.577},{"s":"s6","c":4,"x":0.493,"y":0.694},{"s":"s6","c":4,"x":0.592,"y":0.748},{"s":"s6","c":4,"x":0.711,"y":0.737},{"s":"s6","c":4,"x":0.811,"y":0.63},{"s":"s6","c":4,"x":0.9,"y":0.454},{"s":"s6","c":4,"x":0.955,"y":0.283},{"s":"s6","c":4,"x":0.98,"y":0.123},{"s":"s6","c":4,"x":0.985,"y":0.02},{"s":"s6","c":4,"x":0.9,"y":0.01},{"s":"s6","c":4,"x":0.7,"y":0.01},{"s":"s6","c":4,"x":0.493,"y":0.01},{"s":"s6","c":4,"x":0.478,"y":0.096},{"s":"s6","c":4,"x":0.413,"y":0.31},{"s":"s6","c":4,"x":0.353,"y":0.342},{"s":"s6","c":4,"x":0.279,"y":0.326},{"s":"s6","c":4,"x":0.169,"y":0.315},{"s":"s6","c":4,"x":0.119,"y":0.347},
{"s":"s7","c":4,"x":-0.706,"y":-0.011},{"s":"s7","c":4,"x":-0.617,"y":0.005},{"s":"s7","c":4,"x":-0.338,"y":0.011},{"s":"s7","c":4,"x":-0.284,"y":0.032},{"s":"s7","c":4,"x":-0.244,"y":0.139},{"s":"s7","c":4,"x":-0.184,"y":0.166},{"s":"s7","c":4,"x":-0.104,"y":0.166},{"s":"s7","c":4,"x":-0.055,"y":0.08},{"s":"s7","c":4,"x":-0.02,"y":0.027},{"s":"s7","c":4,"x":0.244,"y":0.016},{"s":"s7","c":4,"x":0.488,"y":0.005},{"s":"s7","c":4,"x":0.428,"y":-0.214},{"s":"s7","c":4,"x":0.353,"y":-0.304},{"s":"s7","c":4,"x":0.264,"y":-0.278},{"s":"s7","c":4,"x":0.169,"y":-0.267},{"s":"s7","c":4,"x":0.124,"y":-0.342},{"s":"s7","c":4,"x":0.129,"y":-0.465},{"s":"s7","c":4,"x":0.164,"y":-0.502},{"s":"s7","c":4,"x":0.264,"y":-0.491},{"s":"s7","c":4,"x":0.353,"y":-0.502},{"s":"s7","c":4,"x":0.418,"y":-0.556},{"s":"s7","c":4,"x":0.493,"y":-0.689},{"s":"s7","c":4,"x":0.726,"y":-0.775},{"s":"s7","c":4,"x":0.56,"y":-1.052},{"s":"s7","c":4,"x":0.43,"y":-1.186},{"s":"s7","c":4,"x":0.303,"y":-1.293},{"s":"s7","c":4,"x":0.179,"y":-1.357},{"s":"s7","c":4,"x":0.104,"y":-1.303},{"s":"s7","c":4,"x":0.07,"y":-1.186},{"s":"s7","c":4,"x":0.08,"y":-1.052},{"s":"s7","c":4,"x":0.07,"y":-0.929},{"s":"s7","c":4,"x":0.08,"y":-0.662},{"s":"s7","c":4,"x":0.045,"y":-0.609},{"s":"s7","c":4,"x":-0.085,"y":-0.534},{"s":"s7","c":4,"x":-0.095,"y":-0.481},{"s":"s7","c":4,"x":-0.07,"y":-0.411},{"s":"s7","c":4,"x":-0.07,"y":-0.342},{"s":"s7","c":4,"x":-0.134,"y":-0.315},{"s":"s7","c":4,"x":-0.209,"y":-0.358},{"s":"s7","c":4,"x":-0.204,"y":-0.395},{"s":"s7","c":4,"x":-0.154,"y":-0.502},{"s":"s7","c":4,"x":-0.144,"y":-0.556},{"s":"s7","c":4,"x":-0.219,"y":-0.694},{"s":"s7","c":4,"x":-0.234,"y":-0.823},{"s":"s7","c":4,"x":-0.333,"y":-1.036},{"s":"s7","c":4,"x":-0.343,"y":-1.068},{"s":"s7","c":4,"x":-0.338,"y":-1.197},{"s":"s7","c":4,"x":-0.284,"y":-1.255},{"s":"s7","c":4,"x":-0.234,"y":-1.303},{"s":"s7","c":4,"x":-0.104,"y":-1.357},{"s":"s7","c":4,"x":-0.055,"y":-1.41},{"s":"s7","c":4,"x":-0.07,"y":-1.437},{"s":"s7","c":4,"x":-0.234,"y":-1.464},{"s":"s7","c":4,"x":-0.318,"y":-1.373},{"s":"s7","c":4,"x":-0.333,"y":-1.303},{"s":"s7","c":4,"x":-0.348,"y":-1.229},{"s":"s7","c":4,"x":-0.383,"y":-1.223},{"s":"s7","c":4,"x":-0.468,"y":-1.09},{"s":"s7","c":4,"x":-0.577,"y":-0.785},{"s":"s7","c":4,"x":-0.567,"y":-0.732},{"s":"s7","c":4,"x":-0.507,"y":-0.609},{"s":"s7","c":4,"x":-0.552,"y":-0.449},{"s":"s7","c":4,"x":-0.542,"y":-0.385},{"s":"s7","c":4,"x":-0.418,"y":-0.358},{"s":"s7","c":4,"x":-0.279,"y":-0.331},{"s":"s7","c":4,"x":-0.279,"y":-0.294},{"s":"s7","c":4,"x":-0.353,"y":-0.011},{"s":"s7","c":4,"x":-0.607,"y":-0.011},{"s":"s7","c":4,"x":-0.607,"y":-0.304},{"s":"s7","c":4,"x":-0.677,"y":-0.369},{"s":"s7","c":4,"x":-0.701,"y":-0.304},
{"s":"g1","c":5,"x":-0.254,"y":-0.021},{"s":"g1","c":5,"x":-0.169,"y":-0.011},{"s":"g1","c":5,"x":-0.1,"y":-0.027},{"s":"g1","c":5,"x":-0.09,"y":-0.107},{"s":"g1","c":5,"x":-0.154,"y":-0.155},{"s":"g1","c":5,"x":-0.219,"y":-0.139},{"s":"g1","c":5,"x":-0.244,"y":-0.091},
{"s":"k1","c":3,"x":-0.073,"y":0.791},{"s":"k1","c":3,"x":-0.045,"y":0.83},{"s":"k1","c":3,"x":-0.012,"y":0.8},{"s":"k1","c":3,"x":-0.003,"y":0.729},{"s":"k1","c":3,"x":-0.053,"y":0.72},
{"s":"k2","c":6,"x":0.149,"y":0.737},{"s":"k2","c":6,"x":0.179,"y":0.835},{"s":"k2","c":6,"x":0.22,"y":0.862},{"s":"k2","c":6,"x":0.295,"y":0.835},{"s":"k2","c":6,"x":0.361,"y":0.773},{"s":"k2","c":6,"x":0.386,"y":0.666},{"s":"k2","c":6,"x":0.37,"y":0.551},{"s":"k2","c":6,"x":0.337,"y":0.524},{"s":"k2","c":6,"x":0.229,"y":0.551},{"s":"k2","c":6,"x":0.162,"y":0.631},
{"s":"k3","c":7,"x":0.215,"y":0.693},{"s":"k3","c":7,"x":0.237,"y":0.741},{"s":"k3","c":7,"x":0.27,"y":0.741},{"s":"k3","c":7,"x":0.328,"y":0.684},{"s":"k3","c":7,"x":0.328,"y":0.631},{"s":"k3","c":7,"x":0.287,"y":0.586},{"s":"k3","c":7,"x":0.229,"y":0.64},
{"s":"k4","c":6,"x":0.315,"y":0.185},{"s":"k4","c":6,"x":0.342,"y":0.257},{"s":"k4","c":6,"x":0.378,"y":0.266},{"s":"k4","c":6,"x":0.419,"y":0.203},{"s":"k4","c":6,"x":0.453,"y":0.096},{"s":"k4","c":6,"x":0.436,"y":0.07},{"s":"k4","c":6,"x":0.386,"y":0.079},{"s":"k4","c":6,"x":0.337,"y":0.132},
{"s":"d1","c":3,"x":0.403,"y":0.399},{"s":"d1","c":3,"x":0.436,"y":0.506},{"s":"d1","c":3,"x":0.494,"y":0.559},{"s":"d1","c":3,"x":0.594,"y":0.542},{"s":"d1","c":3,"x":0.677,"y":0.47},{"s":"d1","c":3,"x":0.735,"y":0.31},{"s":"d1","c":3,"x":0.735,"y":0.186},{"s":"d1","c":3,"x":0.685,"y":0.079},{"s":"d1","c":3,"x":0.56,"y":0.025},{"s":"d1","c":3,"x":0.502,"y":0.07},{"s":"d1","c":3,"x":0.469,"y":0.186},{"s":"d1","c":3,"x":0.419,"y":0.328},
{"s":"d2","c":2,"x":0.436,"y":0.39},{"s":"d2","c":2,"x":0.461,"y":0.461},{"s":"d2","c":2,"x":0.511,"y":0.488},{"s":"d2","c":2,"x":0.594,"y":0.453},{"s":"d2","c":2,"x":0.668,"y":0.328},{"s":"d2","c":2,"x":0.696,"y":0.186},{"s":"d2","c":2,"x":0.66,"y":0.105},{"s":"d2","c":2,"x":0.577,"y":0.079},{"s":"d2","c":2,"x":0.511,"y":0.123},{"s":"d2","c":2,"x":0.461,"y":0.257},
{"s":"d3","c":1,"x":0.464,"y":0.372},{"s":"d3","c":1,"x":0.481,"y":0.417},{"s":"d3","c":1,"x":0.527,"y":0.435},{"s":"d3","c":1,"x":0.594,"y":0.39},{"s":"d3","c":1,"x":0.652,"y":0.274},{"s":"d3","c":1,"x":0.668,"y":0.186},{"s":"d3","c":1,"x":0.627,"y":0.132},{"s":"d3","c":1,"x":0.56,"y":0.123},{"s":"d3","c":1,"x":0.502,"y":0.203},{"s":"d3","c":1,"x":0.478,"y":0.292},
{"s":"d4","c":0,"x":0.494,"y":0.346},{"s":"d4","c":0,"x":0.519,"y":0.376},{"s":"d4","c":0,"x":0.552,"y":0.364},{"s":"d4","c":0,"x":0.602,"y":0.274},{"s":"d4","c":0,"x":0.605,"y":0.212},{"s":"d4","c":0,"x":0.577,"y":0.173},{"s":"d4","c":0,"x":0.544,"y":0.186},{"s":"d4","c":0,"x":0.511,"y":0.248},
{"s":"h1","c":6,"x":0.395,"y":-0.402},{"s":"h1","c":6,"x":0.428,"y":-0.296},{"s":"h1","c":6,"x":0.494,"y":-0.064},{"s":"h1","c":6,"x":0.594,"y":-0.034},{"s":"h1","c":6,"x":0.701,"y":-0.118},{"s":"h1","c":6,"x":0.743,"y":-0.251},{"s":"h1","c":6,"x":0.718,"y":-0.411},{"s":"h1","c":6,"x":0.61,"y":-0.536},{"s":"h1","c":6,"x":0.494,"y":-0.557},{"s":"h1","c":6,"x":0.419,"y":-0.491},
{"s":"h2","c":7,"x":0.419,"y":-0.385},{"s":"h2","c":7,"x":0.461,"y":-0.216},{"s":"h2","c":7,"x":0.527,"y":-0.082},{"s":"h2","c":7,"x":0.627,"y":-0.073},{"s":"h2","c":7,"x":0.685,"y":-0.18},{"s":"h2","c":7,"x":0.685,"y":-0.322},{"s":"h2","c":7,"x":0.627,"y":-0.447},{"s":"h2","c":7,"x":0.527,"y":-0.518},{"s":"h2","c":7,"x":0.453,"y":-0.465},
{"s":"h3","c":8,"x":0.453,"y":-0.367},{"s":"h3","c":8,"x":0.486,"y":-0.233},{"s":"h3","c":8,"x":0.547,"y":-0.13},{"s":"h3","c":8,"x":0.61,"y":-0.126},{"s":"h3","c":8,"x":0.638,"y":-0.216},{"s":"h3","c":8,"x":0.638,"y":-0.287},{"s":"h3","c":8,"x":0.594,"y":-0.394},{"s":"h3","c":8,"x":0.511,"y":-0.443},{"s":"h3","c":8,"x":0.461,"y":-0.42},
{"s":"h4","c":9,"x":0.491,"y":-0.349},{"s":"h4","c":9,"x":0.502,"y":-0.269},{"s":"h4","c":9,"x":0.544,"y":-0.183},{"s":"h4","c":9,"x":0.585,"y":-0.176},{"s":"h4","c":9,"x":0.607,"y":-0.224},{"s":"h4","c":9,"x":0.607,"y":-0.278},{"s":"h4","c":9,"x":0.56,"y":-0.354},{"s":"h4","c":9,"x":0.519,"y":-0.379},
{"s":"m1","c":3,"x":0.32,"y":-0.171},{"s":"m1","c":3,"x":0.345,"y":-0.1},{"s":"m1","c":3,"x":0.403,"y":-0.064},{"s":"m1","c":3,"x":0.441,"y":-0.091},{"s":"m1","c":3,"x":0.436,"y":-0.18},{"s":"m1","c":3,"x":0.386,"y":-0.251},{"s":"m1","c":3,"x":0.345,"y":-0.26},
{"s":"m2","c":3,"x":0.149,"y":-0.696},{"s":"m2","c":3,"x":0.187,"y":-0.607},{"s":"m2","c":3,"x":0.279,"y":-0.532},{"s":"m2","c":3,"x":0.353,"y":-0.536},{"s":"m2","c":3,"x":0.395,"y":-0.634},{"s":"m2","c":3,"x":0.37,"y":-0.75},{"s":"m2","c":3,"x":0.295,"y":-0.821},{"s":"m2","c":3,"x":0.229,"y":-0.857},{"s":"m2","c":3,"x":0.171,"y":-0.803},
{"s":"m3","c":2,"x":0.215,"y":-0.678},{"s":"m3","c":2,"x":0.237,"y":-0.625},{"s":"m3","c":2,"x":0.287,"y":-0.589},{"s":"m3","c":2,"x":0.332,"y":-0.621},{"s":"m3","c":2,"x":0.328,"y":-0.67},{"s":"m3","c":2,"x":0.27,"y":-0.746},{"s":"m3","c":2,"x":0.232,"y":-0.732},
{"s":"m4","c":6,"x":-0.073,"y":-0.768},{"s":"m4","c":6,"x":-0.053,"y":-0.735},{"s":"m4","c":6,"x":-0.007,"y":-0.728},{"s":"m4","c":6,"x":-0.003,"y":-0.785},{"s":"m4","c":6,"x":-0.037,"y":-0.83},{"s":"m4","c":6,"x":-0.07,"y":-0.824}
],"rl":[
{"s":"a1","x":0.121,"y":0.755},{"s":"a1","x":0.121,"y":0.862},{"s":"a1","x":0.171,"y":0.933},{"s":"a1","x":0.254,"y":0.937},{"s":"a1","x":0.353,"y":0.889},{"s":"a1","x":0.411,"y":0.827},{"s":"a1","x":0.433,"y":0.702},{"s":"a1","x":0.419,"y":0.577},{"s":"a1","x":0.361,"y":0.497},{"s":"a1","x":0.279,"y":0.515},{"s":"a1","x":0.179,"y":0.56},{"s":"a1","x":0.121,"y":0.648},
{"s":"a2","x":0.171,"y":0.72},{"s":"a2","x":0.187,"y":0.773},{"s":"a2","x":0.245,"y":0.809},{"s":"a2","x":0.303,"y":0.791},{"s":"a2","x":0.353,"y":0.737},{"s":"a2","x":0.37,"y":0.648},{"s":"a2","x":0.361,"y":0.568},{"s":"a2","x":0.303,"y":0.551},{"s":"a2","x":0.22,"y":0.586},{"s":"a2","x":0.179,"y":0.64},
{"s":"a3","x":0.237,"y":0.657},{"s":"a3","x":0.262,"y":0.711},{"s":"a3","x":0.32,"y":0.657},{"s":"a3","x":0.298,"y":0.604},
{"s":"e0","x":-0.169,"y":0.88},{"s":"e0","x":-0.153,"y":0.942},{"s":"e0","x":-0.086,"y":0.978},{"s":"e0","x":-0.02,"y":0.942},{"s":"e0","x":0.03,"y":0.88},{"s":"e0","x":0.055,"y":0.755},{"s":"e0","x":0.046,"y":0.684},{"s":"e0","x":-0.053,"y":0.622},{"s":"e0","x":-0.12,"y":0.64},{"s":"e0","x":-0.161,"y":0.755},
{"s":"sm","x":0.021,"y":0.492},{"s":"sm","x":0.055,"y":0.506},{"s":"sm","x":0.058,"y":0.467},{"s":"sm","x":0.021,"y":0.47},
{"s":"c1","x":0.166,"y":0.435},{"s":"c1","x":0.196,"y":0.479},{"s":"c1","x":0.262,"y":0.479},{"s":"c1","x":0.328,"y":0.444},{"s":"c1","x":0.365,"y":0.385},{"s":"c1","x":0.328,"y":0.372},{"s":"c1","x":0.22,"y":0.337},{"s":"c1","x":0.179,"y":0.372},
{"s":"d1","x":0.358,"y":0.42},{"s":"d1","x":0.444,"y":0.533},{"s":"d1","x":0.56,"y":0.613},{"s":"d1","x":0.66,"y":0.586},{"s":"d1","x":0.776,"y":0.444},{"s":"d1","x":0.817,"y":0.337},{"s":"d1","x":0.809,"y":0.203},{"s":"d1","x":0.726,"y":0.079},{"s":"d1","x":0.594,"y":0.016},{"s":"d1","x":0.511,"y":0.043},{"s":"d1","x":0.469,"y":0.132},{"s":"d1","x":0.428,"y":0.257},{"s":"d1","x":0.37,"y":0.39},
{"s":"d2","x":0.411,"y":0.399},{"s":"d2","x":0.444,"y":0.488},{"s":"d2","x":0.502,"y":0.533},{"s":"d2","x":0.56,"y":0.533},{"s":"d2","x":0.643,"y":0.47},{"s":"d2","x":0.718,"y":0.328},{"s":"d2","x":0.73,"y":0.203},{"s":"d2","x":0.685,"y":0.096},{"s":"d2","x":0.61,"y":0.061},{"s":"d2","x":0.527,"y":0.07},{"s":"d2","x":0.486,"y":0.15},{"s":"d2","x":0.436,"y":0.292},
{"s":"d3","x":0.436,"y":0.372},{"s":"d3","x":0.461,"y":0.453},{"s":"d3","x":0.511,"y":0.479},{"s":"d3","x":0.594,"y":0.444},{"s":"d3","x":0.677,"y":0.31},{"s":"d3","x":0.696,"y":0.186},{"s":"d3","x":0.66,"y":0.114},{"s":"d3","x":0.577,"y":0.088},{"s":"d3","x":0.519,"y":0.123},{"s":"d3","x":0.469,"y":0.248},
{"s":"d4","x":0.469,"y":0.372},{"s":"d4","x":0.527,"y":0.431},{"s":"d4","x":0.577,"y":0.417},{"s":"d4","x":0.635,"y":0.328},{"s":"d4","x":0.668,"y":0.203},{"s":"d4","x":0.627,"y":0.132},{"s":"d4","x":0.56,"y":0.123},{"s":"d4","x":0.511,"y":0.186},{"s":"d4","x":0.486,"y":0.274},
{"s":"d5","x":0.494,"y":0.346},{"s":"d5","x":0.527,"y":0.372},{"s":"d5","x":0.56,"y":0.355},{"s":"d5","x":0.602,"y":0.274},{"s":"d5","x":0.602,"y":0.212},{"s":"d5","x":0.577,"y":0.177},{"s":"d5","x":0.544,"y":0.186},{"s":"d5","x":0.511,"y":0.248},
{"s":"u1","x":0.265,"y":0.185},{"s":"u1","x":0.295,"y":0.266},{"s":"u1","x":0.353,"y":0.301},{"s":"u1","x":0.403,"y":0.283},{"s":"u1","x":0.436,"y":0.203},{"s":"u1","x":0.469,"y":0.079},{"s":"u1","x":0.461,"y":0.034},{"s":"u1","x":0.403,"y":0.025},{"s":"u1","x":0.328,"y":0.061},{"s":"u1","x":0.279,"y":0.114},
{"s":"u2","x":0.345,"y":0.185},{"s":"u2","x":0.378,"y":0.235},{"s":"u2","x":0.411,"y":0.203},{"s":"u2","x":0.436,"y":0.132},{"s":"u2","x":0.428,"y":0.088},{"s":"u2","x":0.395,"y":0.088},{"s":"u2","x":0.353,"y":0.141},
{"s":"f1","x":0.353,"y":-0.39},{"s":"f1","x":0.42,"y":-0.287},{"s":"f1","x":0.469,"y":-0.144},{"s":"f1","x":0.511,"y":-0.037},{"s":"f1","x":0.594,"y":-0.02},{"s":"f1","x":0.693,"y":-0.055},{"s":"f1","x":0.776,"y":-0.144},{"s":"f1","x":0.822,"y":-0.233},{"s":"f1","x":0.801,"y":-0.376},{"s":"f1","x":0.726,"y":-0.518},{"s":"f1","x":0.61,"y":-0.607},{"s":"f1","x":0.511,"y":-0.616},{"s":"f1","x":0.436,"y":-0.554},
{"s":"f2","x":0.436,"y":-0.376},{"s":"f2","x":0.486,"y":-0.162},{"s":"f2","x":0.552,"y":-0.073},{"s":"f2","x":0.643,"y":-0.077},{"s":"f2","x":0.718,"y":-0.18},{"s":"f2","x":0.74,"y":-0.287},{"s":"f2","x":0.693,"y":-0.438},{"s":"f2","x":0.577,"y":-0.527},{"s":"f2","x":0.494,"y":-0.509},{"s":"f2","x":0.444,"y":-0.456},
{"s":"f3","x":0.444,"y":-0.367},{"s":"f3","x":0.478,"y":-0.216},{"s":"f3","x":0.544,"y":-0.112},{"s":"f3","x":0.61,"y":-0.1},{"s":"f3","x":0.668,"y":-0.189},{"s":"f3","x":0.673,"y":-0.287},{"s":"f3","x":0.627,"y":-0.411},{"s":"f3","x":0.527,"y":-0.491},{"s":"f3","x":0.461,"y":-0.438},
{"s":"f4","x":0.464,"y":-0.367},{"s":"f4","x":0.494,"y":-0.251},{"s":"f4","x":0.552,"y":-0.144},{"s":"f4","x":0.602,"y":-0.135},{"s":"f4","x":0.63,"y":-0.216},{"s":"f4","x":0.63,"y":-0.287},{"s":"f4","x":0.594,"y":-0.385},{"s":"f4","x":0.511,"y":-0.438},{"s":"f4","x":0.469,"y":-0.411},
{"s":"f5","x":0.494,"y":-0.349},{"s":"f5","x":0.506,"y":-0.278},{"s":"f5","x":0.544,"y":-0.194},{"s":"f5","x":0.577,"y":-0.18},{"s":"f5","x":0.605,"y":-0.224},{"s":"f5","x":0.602,"y":-0.278},{"s":"f5","x":0.56,"y":-0.349},{"s":"f5","x":0.519,"y":-0.379},
{"s":"h1","x":0.262,"y":-0.153},{"s":"h1","x":0.295,"y":-0.082},{"s":"h1","x":0.386,"y":-0.034},{"s":"h1","x":0.444,"y":-0.034},{"s":"h1","x":0.469,"y":-0.064},{"s":"h1","x":0.444,"y":-0.18},{"s":"h1","x":0.395,"y":-0.269},{"s":"h1","x":0.353,"y":-0.308},{"s":"h1","x":0.279,"y":-0.251},
{"s":"h2","x":0.342,"y":-0.18},{"s":"h2","x":0.361,"y":-0.126},{"s":"h2","x":0.403,"y":-0.091},{"s":"h2","x":0.431,"y":-0.109},{"s":"h2","x":0.428,"y":-0.171},{"s":"h2","x":0.386,"y":-0.242},{"s":"h2","x":0.353,"y":-0.233},
{"s":"i1","x":0.171,"y":-0.411},{"s":"i1","x":0.196,"y":-0.358},{"s":"i1","x":0.229,"y":-0.337},{"s":"i1","x":0.312,"y":-0.376},{"s":"i1","x":0.353,"y":-0.397},{"s":"i1","x":0.279,"y":-0.465},{"s":"i1","x":0.212,"y":-0.491},{"s":"i1","x":0.179,"y":-0.465},
{"s":"j1","x":0.013,"y":-0.488},{"s":"j1","x":0.03,"y":-0.461},{"s":"j1","x":0.055,"y":-0.465},{"s":"j1","x":0.06,"y":-0.5},{"s":"j1","x":0.038,"y":-0.515},
{"s":"k1","x":0.118,"y":-0.625},{"s":"k1","x":0.154,"y":-0.572},{"s":"k1","x":0.279,"y":-0.5},{"s":"k1","x":0.353,"y":-0.5},{"s":"k1","x":0.411,"y":-0.589},{"s":"k1","x":0.436,"y":-0.696},{"s":"k1","x":0.411,"y":-0.821},{"s":"k1","x":0.312,"y":-0.928},{"s":"k1","x":0.229,"y":-0.937},{"s":"k1","x":0.138,"y":-0.892},{"s":"k1","x":0.121,"y":-0.768},
{"s":"k2","x":0.166,"y":-0.705},{"s":"k2","x":0.196,"y":-0.625},{"s":"k2","x":0.279,"y":-0.55},{"s":"k2","x":0.337,"y":-0.55},{"s":"k2","x":0.375,"y":-0.643},{"s":"k2","x":0.37,"y":-0.714},{"s":"k2","x":0.312,"y":-0.776},{"s":"k2","x":0.245,"y":-0.807},{"s":"k2","x":0.187,"y":-0.803},
{"s":"k3","x":0.237,"y":-0.661},{"s":"k3","x":0.295,"y":-0.604},{"s":"k3","x":0.323,"y":-0.652},{"s":"k3","x":0.259,"y":-0.718},
{"s":"n1","x":-0.166,"y":-0.839},{"s":"n1","x":-0.144,"y":-0.696},{"s":"n1","x":-0.086,"y":-0.629},{"s":"n1","x":-0.012,"y":-0.634},{"s":"n1","x":0.046,"y":-0.696},{"s":"n1","x":0.055,"y":-0.803},{"s":"n1","x":0.03,"y":-0.892},{"s":"n1","x":-0.037,"y":-0.963},{"s":"n1","x":-0.086,"y":-0.981},{"s":"n1","x":-0.144,"y":-0.946},
{"s":"o1","x":-0.371,"y":0.509},{"s":"o1","x":-0.348,"y":0.55},{"s":"o1","x":-0.288,"y":0.565},{"s":"o1","x":-0.277,"y":0.524},{"s":"o1","x":-0.343,"y":0.479},{"s":"o1","x":-0.371,"y":0.479},
{"s":"o2","x":-0.542,"y":0.168},{"s":"o2","x":-0.525,"y":0.239},{"s":"o2","x":-0.476,"y":0.266},{"s":"o2","x":-0.418,"y":0.248},{"s":"o2","x":-0.401,"y":0.168},{"s":"o2","x":-0.426,"y":0.096},{"s":"o2","x":-0.484,"y":0.07},{"s":"o2","x":-0.525,"y":0.096},
{"s":"o3","x":-0.542,"y":-0.162},{"s":"o3","x":-0.525,"y":-0.1},{"s":"o3","x":-0.476,"y":-0.077},{"s":"o3","x":-0.418,"y":-0.109},{"s":"o3","x":-0.404,"y":-0.18},{"s":"o3","x":-0.418,"y":-0.233},{"s":"o3","x":-0.467,"y":-0.269},{"s":"o3","x":-0.525,"y":-0.242},
{"s":"o4","x":-0.376,"y":-0.474},{"s":"o4","x":-0.327,"y":-0.483},{"s":"o4","x":-0.265,"y":-0.532},{"s":"o4","x":-0.288,"y":-0.572},{"s":"o4","x":-0.36,"y":-0.55},{"s":"o4","x":-0.376,"y":-0.518}
],"h":[{"y":1.7},{"y":-1.7}]},"hconcat":[
{"width":400,"height":674,"title":{"text":"p\u00a0\u00a0\u00a0\u00a0\u00a0\u00a0\u00a0\u00a0\u00a0\u00a0\u00a0\u00a0\u00a0\u00a0\u00a0max\u00a0\u00a0\u00a00.16E+00 min -0.10E-07 t=\u00a0\u00a0\u00a0\u00a0\u00a0\u00a0\u00a00.00","anchor":"start","frame":"group","font":"Liberation Serif","fontSize":16,"fontWeight":"normal","color":"black","dx":8,"offset":7},"resolve":{"axis":{"x":"independent","y":"independent"}},"encoding":{"x":{"field":"x","type":"quantitative","scale":{"domain":[-1,1],"nice":false,"zero":false},"axis":null},"y":{"field":"y","type":"quantitative","scale":{"domain":[-1.8,1.8],"nice":false,"zero":false},"axis":null}},"layer":[
{"data":{"name":"bd"},"mark":{"type":"line","interpolate":"cardinal-closed","strokeWidth":0},"encoding":{"x":{"field":"x","type":"quantitative","scale":{"domain":[-1,1],"nice":false,"zero":false},"axis":{"orient":"bottom","values":[-1,-0.9,-0.8,-0.7,-0.6,-0.5,-0.4,-0.3,-0.2,-0.1,0,0.1,0.2,0.3,0.4,0.5,0.6,0.7,0.8,0.9,1],"tickSize":{"expr":"abs(round(datum.value*10)%2)==1?-4:-8"},"labelExpr":"abs(round(datum.value*10)%2)==1?'':(abs(datum.value)<0.01?'0':replace(replace(format(datum.value,'.1f'),'0.','.'),'−','-'))","title":"X","labelPadding":20,"titlePadding":10}},"y":{"field":"y","type":"quantitative","scale":{"domain":[-1.8,1.8],"nice":false,"zero":false},"axis":{"orient":"left","values":[-1.8,-1.7,-1.6,-1.5,-1.4,-1.3,-1.2,-1.1,-1,-0.9,-0.8,-0.7,-0.6,-0.5,-0.4,-0.3,-0.2,-0.1,0,0.1,0.2,0.3,0.4,0.5,0.6,0.7,0.8,0.9,1,1.1,1.2,1.3,1.4,1.5,1.6,1.7,1.8],"tickSize":{"expr":"abs(round(datum.value*10)%2)==1?-4:-8"},"labelExpr":"abs(round(datum.value*10)%2)==1?'':(abs(datum.value)<0.01?'0':replace(replace(format(datum.value,'.1f'),'0.','.'),'−','-'))","title":"Y","labelPadding":16,"titlePadding":4}},"order":{"value":null},"fill":{"value":"#7f00ff"}}},
{"data":{"name":"lf"},"mark":{"type":"line","interpolate":"cardinal-closed","tension":0.3,"strokeWidth":0},"encoding":{"order":{"value":null},"detail":{"field":"s"},"fill":{"field":"c","type":"nominal","legend":null,"scale":{"domain":[0,1,2,3,4,5,6,7,8,9],"range":["#7f00ff","#0000ff","#007fff","#00ffff","#00ff7f","#00ff00","#7fff00","#ffff00","#ff7f00","#ff0000"]}}}},
{"data":{"name":"ll"},"mark":{"type":"line","interpolate":"cardinal-closed","tension":0.3,"stroke":"black","strokeWidth":1,"fill":null},"encoding":{"order":{"value":null},"detail":{"field":"s"}}},
{"data":{"name":"bd"},"mark":{"type":"line","interpolate":"cardinal-closed","stroke":"black","strokeWidth":1,"fill":null},"encoding":{"order":{"value":null}}},
{"data":{"values":[{"x":1.085,"y":-2.03,"t":"(a)"}]},"mark":{"type":"text","font":"Liberation Serif","fontSize":17,"color":"black"},"encoding":{"text":{"field":"t"}}},
{"data":{"name":"h"},"mark":{"type":"rule","color":"black","strokeWidth":1},"encoding":{"y":{"field":"y","type":"quantitative","scale":{"domain":[-1.8,1.8],"nice":false,"zero":false},"axis":{"orient":"right","values":[-1.8,-1.7,-1.6,-1.5,-1.4,-1.3,-1.2,-1.1,-1,-0.9,-0.8,-0.7,-0.6,-0.5,-0.4,-0.3,-0.2,-0.1,0,0.1,0.2,0.3,0.4,0.5,0.6,0.7,0.8,0.9,1,1.1,1.2,1.3,1.4,1.5,1.6,1.7,1.8],"tickSize":{"expr":"abs(round(datum.value*10)%2)==1?-4:-8"},"labels":false,"title":null}},"x":{"datum":0,"type":"quantitative","scale":{"domain":[-1,1],"nice":false,"zero":false},"axis":{"orient":"top","values":[-1,-0.9,-0.8,-0.7,-0.6,-0.5,-0.4,-0.3,-0.2,-0.1,0,0.1,0.2,0.3,0.4,0.5,0.6,0.7,0.8,0.9,1],"tickSize":{"expr":"abs(round(datum.value*10)%2)==1?-4:-8"},"labels":false,"title":null}}}}
]},
{"width":402,"height":674,"title":{"text":"u\u00a0\u00a0\u00a0\u00a0\u00a0\u00a0\u00a0\u00a0\u00a0\u00a0\u00a0\u00a0\u00a0\u00a0\u00a0max\u00a0\u00a0\u00a00.76E-02 min -0.76E-02 t=\u00a0\u00a0\u00a0\u00a0\u00a010.90","anchor":"start","frame":"group","font":"Liberation Serif","fontSize":16,"fontWeight":"normal","color":"black","dx":8,"offset":7},"resolve":{"axis":{"x":"independent","y":"independent"}},"encoding":{"x":{"field":"x","type":"quantitative","scale":{"domain":[-1,1],"nice":false,"zero":false},"axis":null},"y":{"field":"y","type":"quantitative","scale":{"domain":[-1.8,1.8],"nice":false,"zero":false},"axis":null}},"layer":[
{"data":{"name":"bd"},"mark":{"type":"line","interpolate":"cardinal-closed","strokeWidth":0},"encoding":{"x":{"field":"x","type":"quantitative","scale":{"domain":[-1,1],"nice":false,"zero":false},"axis":{"orient":"bottom","values":[-1,-0.9,-0.8,-0.7,-0.6,-0.5,-0.4,-0.3,-0.2,-0.1,0,0.1,0.2,0.3,0.4,0.5,0.6,0.7,0.8,0.9,1],"tickSize":{"expr":"abs(round(datum.value*10)%2)==1?-4:-8"},"labelExpr":"abs(round(datum.value*10)%2)==1?'':(abs(datum.value)<0.01?'0':replace(replace(format(datum.value,'.1f'),'0.','.'),'−','-'))","title":"X","labelPadding":20,"titlePadding":10}},"y":{"field":"y","type":"quantitative","scale":{"domain":[-1.8,1.8],"nice":false,"zero":false},"axis":{"orient":"left","values":[-1.8,-1.7,-1.6,-1.5,-1.4,-1.3,-1.2,-1.1,-1,-0.9,-0.8,-0.7,-0.6,-0.5,-0.4,-0.3,-0.2,-0.1,0,0.1,0.2,0.3,0.4,0.5,0.6,0.7,0.8,0.9,1,1.1,1.2,1.3,1.4,1.5,1.6,1.7,1.8],"tickSize":{"expr":"abs(round(datum.value*10)%2)==1?-4:-8"},"labelExpr":"abs(round(datum.value*10)%2)==1?'':(abs(datum.value)<0.01?'0':replace(replace(format(datum.value,'.1f'),'0.','.'),'−','-'))","title":"Y","labelPadding":16,"titlePadding":4}},"order":{"value":null},"fill":{"value":"#00ff00"}}},
{"data":{"name":"rf"},"mark":{"type":"line","interpolate":"cardinal-closed","tension":0.3,"strokeWidth":0},"encoding":{"order":{"value":null},"detail":{"field":"s"},"fill":{"field":"c","type":"nominal","legend":null,"scale":{"domain":[0,1,2,3,4,5,6,7,8,9],"range":["#7f00ff","#0000ff","#007fff","#00ffff","#00ff7f","#00ff00","#7fff00","#ffff00","#ff7f00","#ff0000"]}}}},
{"data":{"name":"rl"},"mark":{"type":"line","interpolate":"cardinal-closed","tension":0.3,"stroke":"black","strokeWidth":1,"fill":null},"encoding":{"order":{"value":null},"detail":{"field":"s"}}},
{"data":{"name":"bd"},"mark":{"type":"line","interpolate":"cardinal-closed","stroke":"black","strokeWidth":1,"fill":null},"encoding":{"order":{"value":null}}},
{"data":{"values":[{"x":1.09,"y":-2.03,"t":"(b)"}]},"mark":{"type":"text","font":"Liberation Serif","fontSize":17,"color":"black"},"encoding":{"text":{"field":"t"}}},
{"data":{"name":"h"},"mark":{"type":"rule","color":"black","strokeWidth":1},"encoding":{"y":{"field":"y","type":"quantitative","scale":{"domain":[-1.8,1.8],"nice":false,"zero":false},"axis":{"orient":"right","values":[-1.8,-1.7,-1.6,-1.5,-1.4,-1.3,-1.2,-1.1,-1,-0.9,-0.8,-0.7,-0.6,-0.5,-0.4,-0.3,-0.2,-0.1,0,0.1,0.2,0.3,0.4,0.5,0.6,0.7,0.8,0.9,1,1.1,1.2,1.3,1.4,1.5,1.6,1.7,1.8],"tickSize":{"expr":"abs(round(datum.value*10)%2)==1?-4:-8"},"labels":false,"title":null}},"x":{"datum":0,"type":"quantitative","scale":{"domain":[-1,1],"nice":false,"zero":false},"axis":{"orient":"top","values":[-1,-0.9,-0.8,-0.7,-0.6,-0.5,-0.4,-0.3,-0.2,-0.1,0,0.1,0.2,0.3,0.4,0.5,0.6,0.7,0.8,0.9,1],"tickSize":{"expr":"abs(round(datum.value*10)%2)==1?-4:-8"},"labels":false,"title":null}}}}
]}
]}
